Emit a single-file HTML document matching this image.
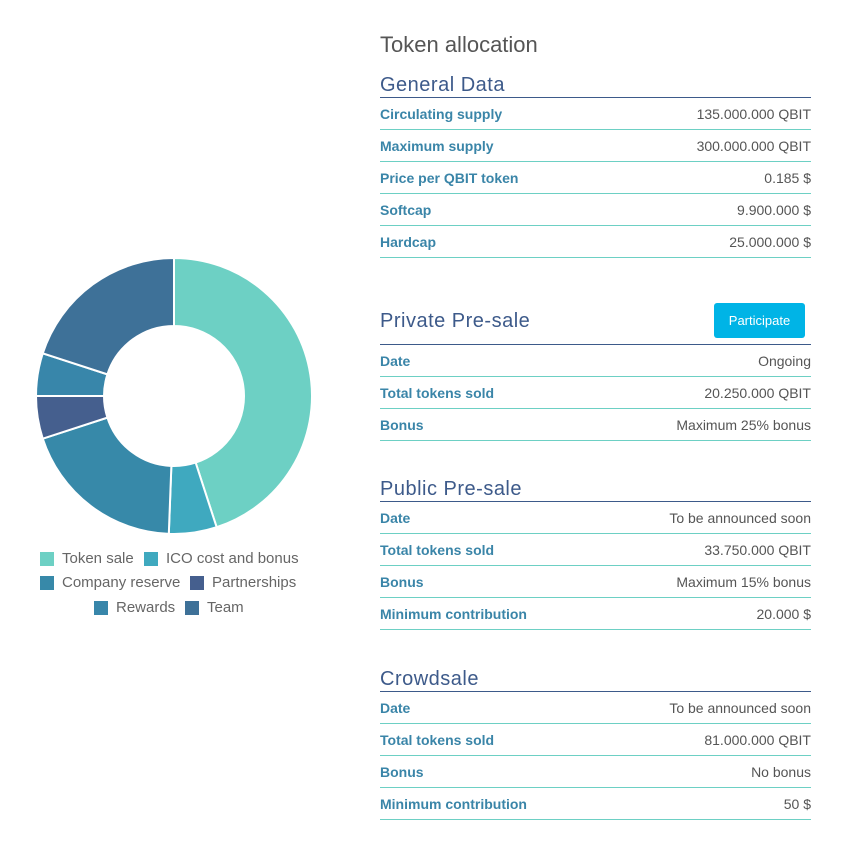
<!DOCTYPE html>
<html><head><meta charset="utf-8"><style>
body{margin:0;width:847px;height:859px;background:#fff;font-family:"Liberation Sans",sans-serif;position:relative;overflow:hidden}
.abs{position:absolute}
.title{left:380px;top:32px;font-size:22px;color:#555}
.h{position:absolute;left:380px;width:431px;font-size:20px;color:#3d5a8a;border-bottom:1px solid #3d5a8a;letter-spacing:0.5px}
.row{position:absolute;left:380px;width:431px;height:31px;border-bottom:1px solid #6dd0c4;font-size:14px;display:flex;justify-content:space-between;align-items:center}
.row .l{color:#3a85a8;font-weight:bold}
.row .v{color:#555}
.btn{position:absolute;left:714px;top:303px;width:91px;height:35px;background:#00b4e6;color:#fff;font-size:13px;border-radius:3px;display:flex;align-items:center;justify-content:center}
.leg{position:absolute;font-size:15px;color:#666;display:flex;align-items:center}
.leg i{display:inline-block;width:14px;height:14px;margin-right:8px}
</style></head><body>
<svg id="chart" class="abs" style="left:0;top:0" width="360" height="560"></svg>
<div class="leg" style="left:40px;top:550px"><i style="background:#6dd0c4"></i>Token sale</div>
<div class="leg" style="left:144px;top:550px"><i style="background:#3fa9bf"></i>ICO cost and bonus</div>
<div class="leg" style="left:40px;top:574px"><i style="background:#3789a9"></i>Company reserve</div>
<div class="leg" style="left:190px;top:574px"><i style="background:#455f8e"></i>Partnerships</div>
<div class="leg" style="left:94px;top:599px"><i style="background:#3886aa"></i>Rewards</div>
<div class="leg" style="left:185px;top:599px"><i style="background:#3e7198"></i>Team</div>

<div class="abs title">Token allocation</div>

<div class="h" style="top:74px;height:23px">General Data</div>
<div class="row" style="top:98px"><span class="l">Circulating supply</span><span class="v">135.000.000 QBIT</span></div>
<div class="row" style="top:130px"><span class="l">Maximum supply</span><span class="v">300.000.000 QBIT</span></div>
<div class="row" style="top:162px"><span class="l">Price per QBIT token</span><span class="v">0.185 $</span></div>
<div class="row" style="top:194px"><span class="l">Softcap</span><span class="v">9.900.000 $</span></div>
<div class="row" style="top:226px"><span class="l">Hardcap</span><span class="v">25.000.000 $</span></div>

<div class="h" style="top:308px;height:36px;line-height:26px">Private Pre-sale</div>
<div class="btn">Participate</div>
<div class="row" style="top:345px"><span class="l">Date</span><span class="v">Ongoing</span></div>
<div class="row" style="top:377px"><span class="l">Total tokens sold</span><span class="v">20.250.000 QBIT</span></div>
<div class="row" style="top:409px"><span class="l">Bonus</span><span class="v">Maximum 25% bonus</span></div>

<div class="h" style="top:478px;height:23px">Public Pre-sale</div>
<div class="row" style="top:502px"><span class="l">Date</span><span class="v">To be announced soon</span></div>
<div class="row" style="top:534px"><span class="l">Total tokens sold</span><span class="v">33.750.000 QBIT</span></div>
<div class="row" style="top:566px"><span class="l">Bonus</span><span class="v">Maximum 15% bonus</span></div>
<div class="row" style="top:598px"><span class="l">Minimum contribution</span><span class="v">20.000 $</span></div>

<div class="h" style="top:668px;height:23px">Crowdsale</div>
<div class="row" style="top:692px"><span class="l">Date</span><span class="v">To be announced soon</span></div>
<div class="row" style="top:724px"><span class="l">Total tokens sold</span><span class="v">81.000.000 QBIT</span></div>
<div class="row" style="top:756px"><span class="l">Bonus</span><span class="v">No bonus</span></div>
<div class="row" style="top:788px"><span class="l">Minimum contribution</span><span class="v">50 $</span></div>

<script>
const categories=["Token sale","ICO cost and bonus","Company reserve","Partnerships","Rewards","Team"];
const values=[45,5.6,19.4,5,5,20];
const colors=["#6dd0c4","#3fa9bf","#3789a9","#455f8e","#3886aa","#3e7198"];
const svg=document.getElementById('chart');
const cx=174,cy=396,R=138,r=70;
const total=values.reduce((a,b)=>a+b,0);
function pt(a,rad){return [cx+rad*Math.sin(a),cy-rad*Math.cos(a)];}
let a0=0;
values.forEach((v,i)=>{
  const a1=a0+v/total*2*Math.PI;
  const large=(a1-a0)>Math.PI?1:0;
  const p1=pt(a0,R),p2=pt(a1,R),p3=pt(a1,r),p4=pt(a0,r);
  const p=document.createElementNS('http://www.w3.org/2000/svg','path');
  p.setAttribute('d',`M${p1[0]},${p1[1]}A${R},${R} 0 ${large} 1 ${p2[0]},${p2[1]}L${p3[0]},${p3[1]}A${r},${r} 0 ${large} 0 ${p4[0]},${p4[1]}Z`);
  p.setAttribute('fill',colors[i]);
  p.setAttribute('stroke','#fff');
  p.setAttribute('stroke-width','2');
  
  
  svg.appendChild(p);
  a0=a1;
});
</script>
</body></html>
